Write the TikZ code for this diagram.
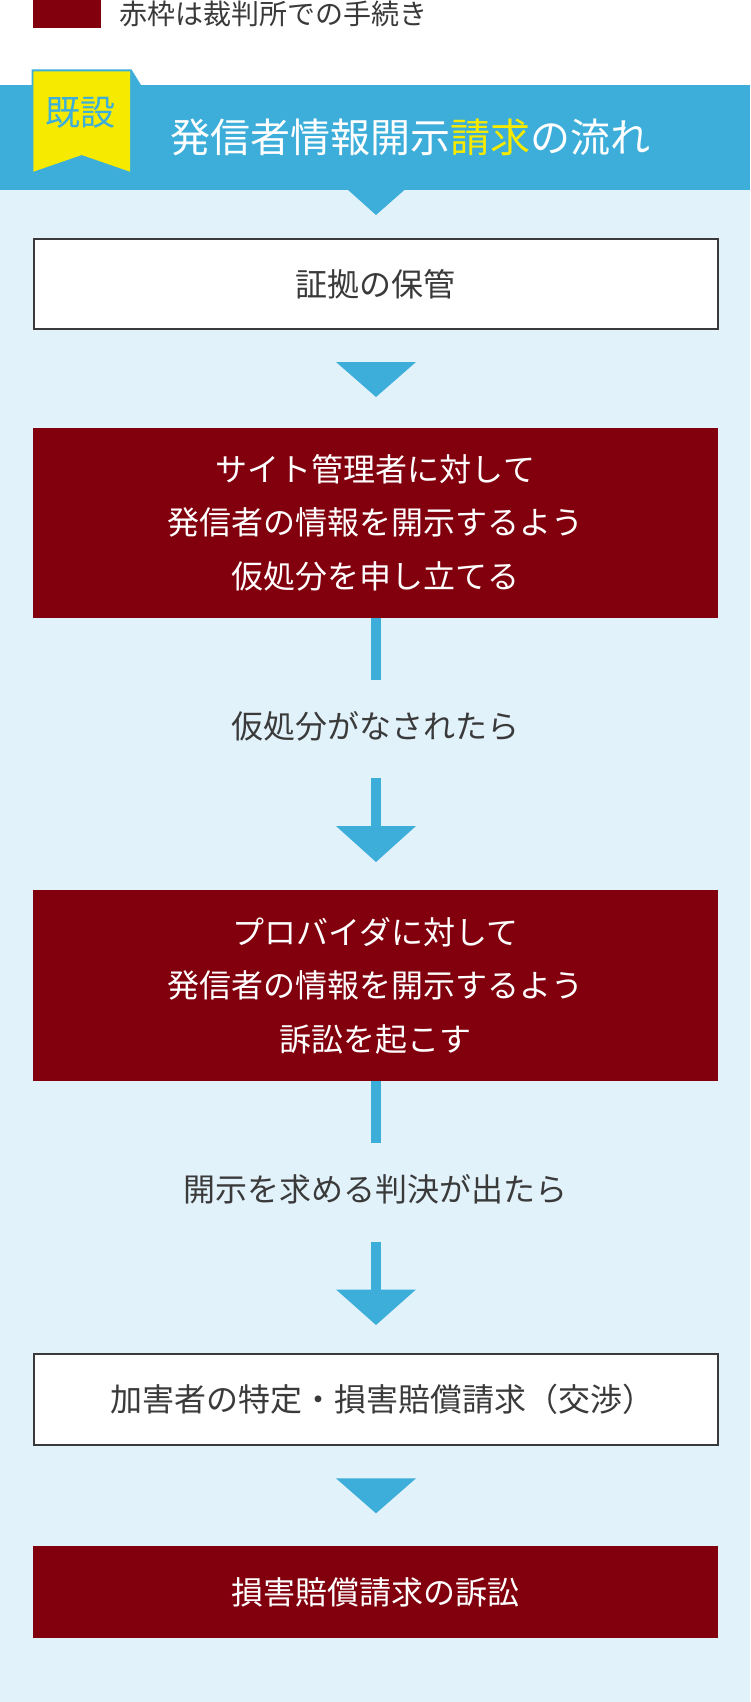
\documentclass[tikz,border=0pt]{standalone}
\usepackage{fontspec}
\setmainfont{Noto Sans CJK JP}
\usetikzlibrary{calc}
\definecolor{hblue}{HTML}{3DAEDA}
\definecolor{pale}{HTML}{E2F2FA}
\definecolor{court}{HTML}{82000D}
\definecolor{badgey}{HTML}{F6EA00}
\definecolor{ink}{HTML}{3A3A3A}
\begin{document}
\begin{tikzpicture}[x=1pt,y=-1pt,
  whitebox/.style={draw=ink, line width=2pt, fill=white, minimum width=684, inner sep=0, text=ink, font=\fontsize{32}{53.5}\selectfont, align=center},
  redbox/.style={fill=court, minimum width=685, inner sep=0, text=white, font=\fontsize{32}{53.5}\selectfont, align=center},
  flowlabel/.style={inner sep=0, text=ink, font=\fontsize{32}{40}\selectfont},
  conn/.style={draw=hblue, line width=10pt},
  septri/.style={fill=hblue}]
\useasboundingbox (0,0) rectangle (750,1702);
% backgrounds
\fill[white] (0,0) rectangle (750,84.5);
\fill[pale] (0,84.5) rectangle (750,1702);
\fill[hblue] (0,84.5) rectangle (750,190);
\fill[hblue] (347,189) -- (405.5,189) -- (376,215) -- cycle;
% legend
\node[fill=court, minimum width=68.4, minimum height=27.5, inner sep=0, anchor=north west] (legsq) at (32.6,0) {};
\node[anchor=west, inner sep=0, text=ink, font=\fontsize{28}{32}\selectfont] (legtxt) at (119,14) {赤枠は裁判所での手続き};
% badge
\fill[hblue] (31.5,69.5) -- (131.5,69.5) -- (141,85) -- (31.5,85) -- cycle;
\fill[badgey] (33.3,71.5) -- (130,71.5) -- (130,171.7) -- (81.7,155) -- (33.3,171.7) -- cycle;
\node[inner sep=0, text=hblue, font=\fontsize{35}{40}\selectfont] (badge) at (80,112.5) {既設};
% title
\node[anchor=west, inner sep=0, text=white, font=\fontsize{40}{48}\selectfont] (title) at (170,137) {発信者情報開示\textcolor{badgey}{請求}の流れ};
% boxes
\node[whitebox, minimum height=90.5] (box1) at (375.5,284) {証拠の保管};
\node[redbox, minimum height=189.7] (box2) at (375.5,522.8) {サイト管理者に対して\\発信者の情報を開示するよう\\仮処分を申し立てる};
\node[redbox, minimum height=191] (box3) at (375.5,985.5) {プロバイダに対して\\発信者の情報を開示するよう\\訴訟を起こす};
\node[whitebox, minimum height=91] (box4) at (375.5,1399.8) {\hspace*{14pt}加害者の特定・損害賠償請求（交渉）};
\node[redbox, minimum height=91.7] (box5) at (375.5,1591.9) {損害賠償請求の訴訟};
% labels
\node[flowlabel] (lab1) at (375.5,726.7) {仮処分がなされたら};
\node[flowlabel] (lab2) at (375.5,1189.6) {開示を求める判決が出たら};
% coordinates
\coordinate (t1) at (376,362);
\coordinate (c1) at (376,680);
\coordinate (c2) at (376,778);
\coordinate (t2) at (376,826);
\coordinate (c3) at (376,1143);
\coordinate (c4) at (376,1241.7);
\coordinate (t3) at (376,1289.5);
\coordinate (t4) at (376,1478.3);
% connectors
\draw[conn] (box2.south -| c1) -- (c1);
\draw[conn] (c2) -- ($(t2)+(0,1)$);
\draw[conn] (box3.south -| c3) -- (c3);
\draw[conn] (c4) -- ($(t3)+(0,1)$);
% separator triangles
\fill[septri] (t1) ++(-40,0) -- ++(80,0) -- ++(-40,35) -- cycle;
\fill[septri] (t2) ++(-40,0) -- ++(80,0) -- ++(-40,36) -- cycle;
\fill[septri] (t3) ++(-40,0) -- ++(80,0) -- ++(-40,35.5) -- cycle;
\fill[septri] (t4) ++(-40,0) -- ++(80,0) -- ++(-40,35) -- cycle;
\end{tikzpicture}
\end{document}
